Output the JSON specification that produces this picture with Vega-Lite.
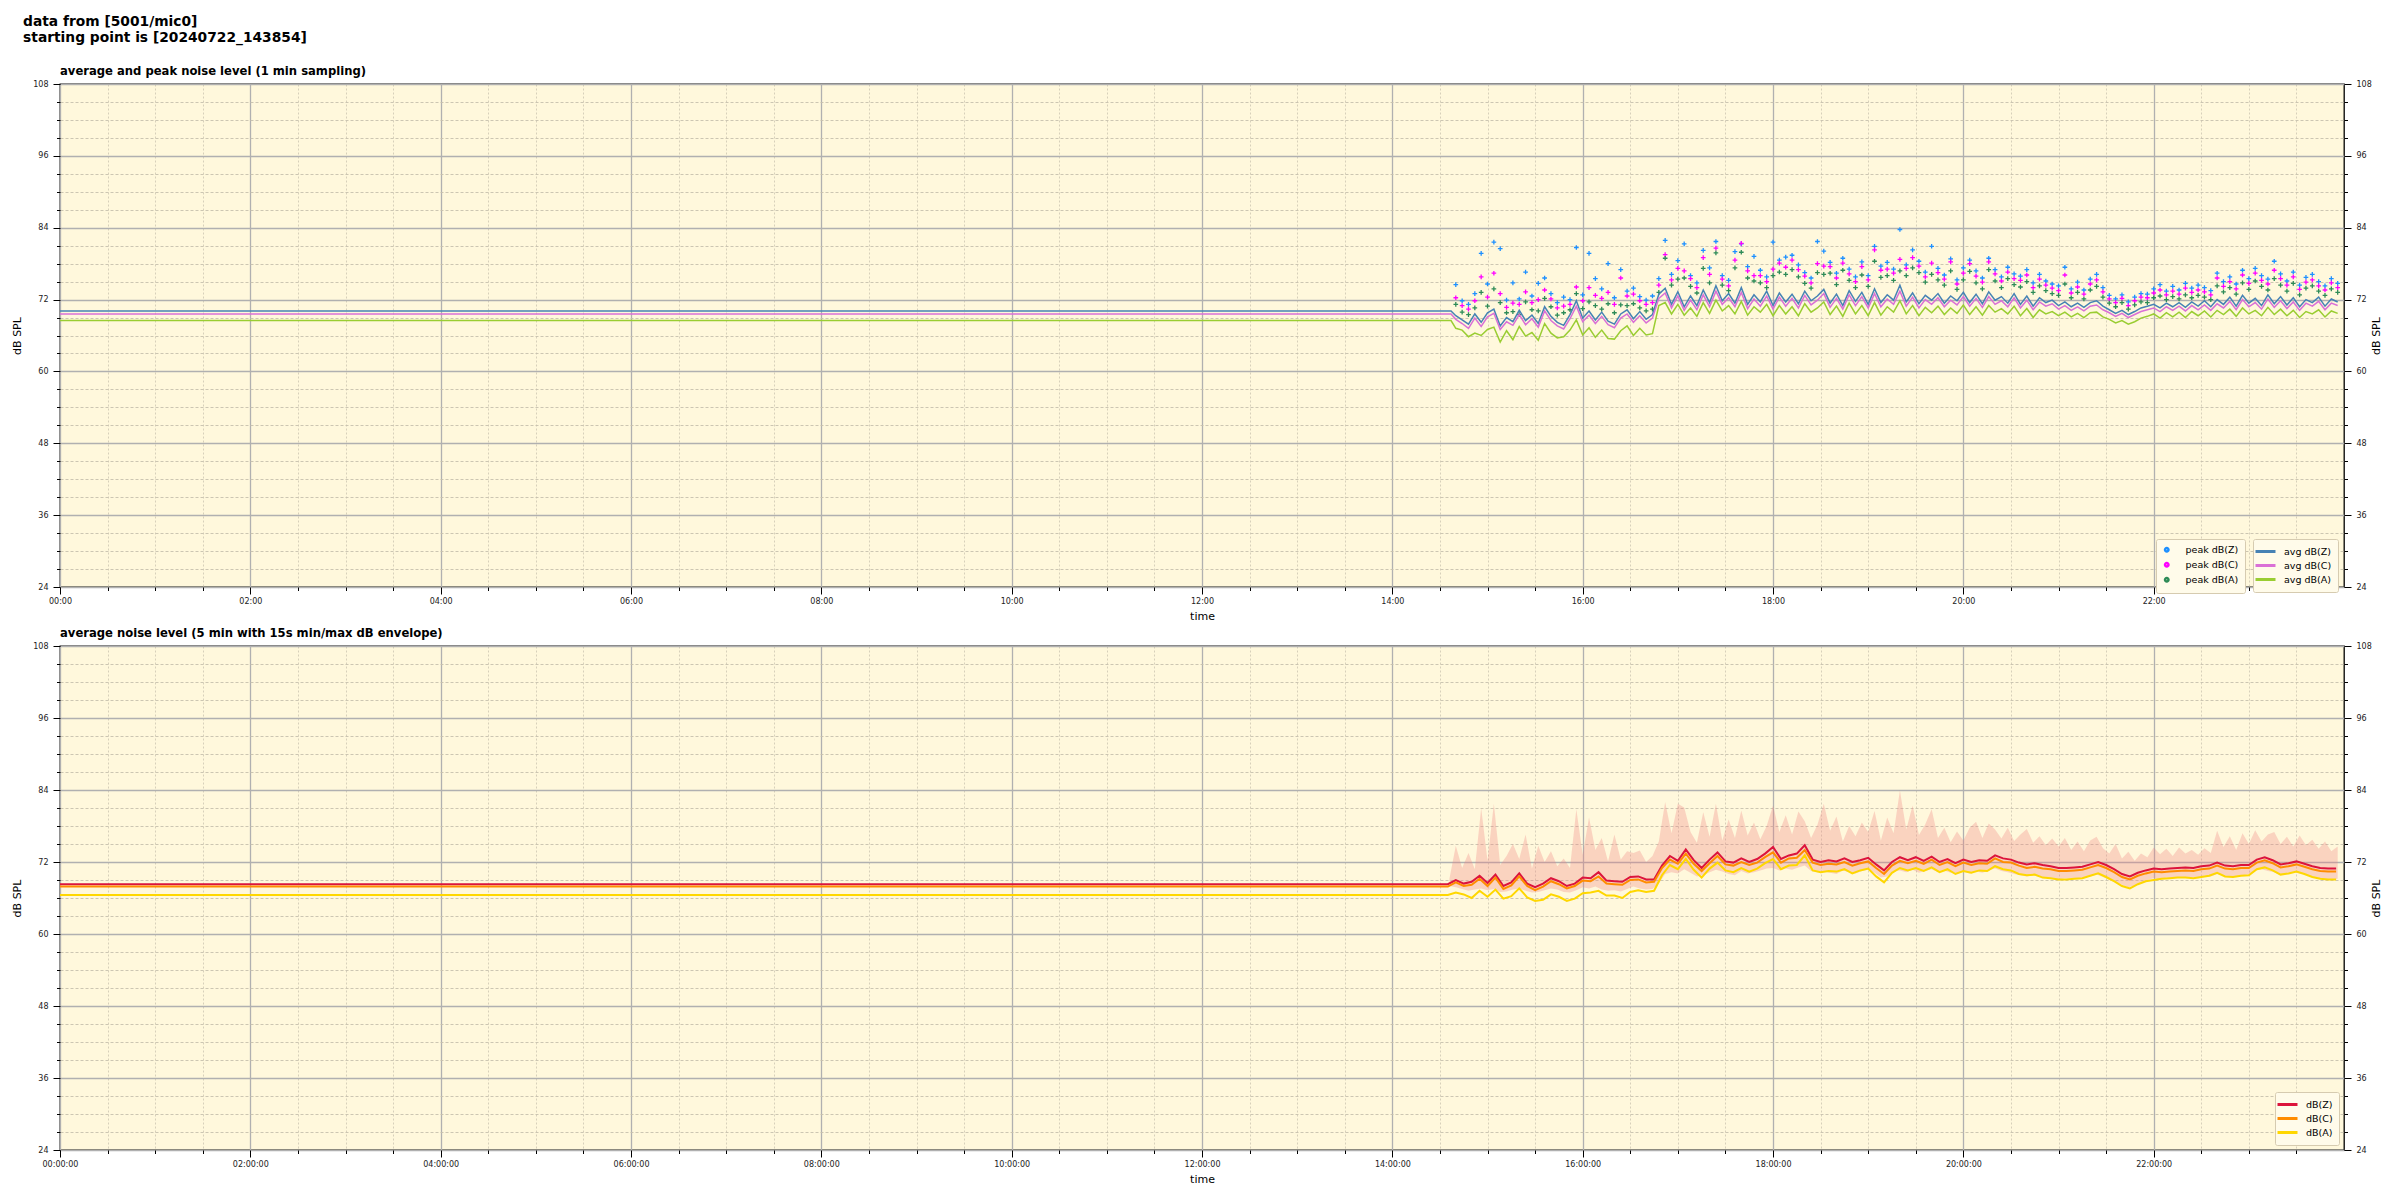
{
"$schema": "https://vega.github.io/schema/vega-lite/v6.json",
"padding": {"left": 11, "top": 14, "right": 10, "bottom": 2},
"background": "white",
"title": {"text": ["data from [5001/mic0]", "starting point is [20240722_143854]"], "anchor": "start", "fontSize": 13.8, "fontWeight": "bold", "font": "DejaVu Sans", "lineHeight": 16, "offset": 21, "dx": 12, "color": "black"},
"config": {
  "font": "DejaVu Sans",
  "view": {"fill": "#fff8dc", "stroke": "black", "strokeWidth": 1.3},
  "axis": {"labelFont": "DejaVu Sans", "labelFontSize": 8, "labelColor": "#222222", "tickColor": "black", "domain": false, "titleFont": "DejaVu Sans", "titleFontSize": 11, "titleFontWeight": "normal", "titleColor": "black"},
  "title": {"font": "DejaVu Sans", "color": "black"}
},
"resolve": {"scale": {"color": "independent"}},
"spacing": 5,
"vconcat": [
{
  "title": {"text": "average and peak noise level (1 min sampling)", "anchor": "start", "frame": "group", "fontSize": 11.6, "fontWeight": "bold", "offset": 2},
  "width": 2284, "height": 503,
  "data": {"values": [
{"t":"2024-07-22T00:00","z":70.1,"c":69.6,"a":68.5},
{"t":"2024-07-22T14:37","z":70.1,"c":69.6,"a":68.5},
{"t":"2024-07-22T14:40","z":69.3,"c":68.7,"a":67.2,"pz":74.5,"pc":72.3,"pa":71.2},
{"t":"2024-07-22T14:44","z":68.6,"c":68.0,"a":66.9,"pz":71.8,"pc":71.0,"pa":69.9},
{"t":"2024-07-22T14:48","z":67.9,"c":67.2,"a":65.8,"pz":71.2,"pc":70.4,"pa":69.5},
{"t":"2024-07-22T14:52","z":69.6,"c":68.9,"a":66.4,"pz":73.0,"pc":71.8,"pa":70.6},
{"t":"2024-07-22T14:56","z":68.2,"c":67.5,"a":66.0,"pz":79.7,"pc":75.8,"pa":73.2},
{"t":"2024-07-22T15:00","z":69.8,"c":69.1,"a":67.0,"pz":74.6,"pc":72.4,"pa":70.9},
{"t":"2024-07-22T15:04","z":70.4,"c":69.7,"a":67.4,"pz":81.6,"pc":76.4,"pa":73.8},
{"t":"2024-07-22T15:08","z":67.6,"c":67.0,"a":64.9,"pz":80.5,"pc":73.0,"pa":71.5},
{"t":"2024-07-22T15:12","z":69.0,"c":68.3,"a":66.8,"pz":71.9,"pc":70.7,"pa":69.8},
{"t":"2024-07-22T15:16","z":68.3,"c":67.7,"a":65.3,"pz":74.8,"pc":71.4,"pa":70.0},
{"t":"2024-07-22T15:20","z":70.2,"c":69.5,"a":67.5,"pz":72.1,"pc":71.2,"pa":69.5},
{"t":"2024-07-22T15:24","z":68.5,"c":67.8,"a":65.9,"pz":76.6,"pc":73.3,"pa":71.6},
{"t":"2024-07-22T15:28","z":69.4,"c":68.8,"a":66.5,"pz":72.6,"pc":71.5,"pa":70.3},
{"t":"2024-07-22T15:32","z":68.0,"c":67.4,"a":65.2,"pz":74.7,"pc":72.0,"pa":70.1},
{"t":"2024-07-22T15:36","z":70.8,"c":70.1,"a":68.0,"pz":75.6,"pc":73.6,"pa":72.2},
{"t":"2024-07-22T15:40","z":69.2,"c":68.5,"a":66.4,"pz":73.0,"pc":72.1,"pa":70.8},
{"t":"2024-07-22T15:44","z":68.2,"c":67.6,"a":65.6,"pz":71.5,"pc":70.6,"pa":69.4},
{"t":"2024-07-22T15:48","z":67.7,"c":67.1,"a":65.8,"pz":72.4,"pc":70.9,"pa":69.8},
{"t":"2024-07-22T15:52","z":69.5,"c":68.8,"a":66.9,"pz":72.0,"pc":71.2,"pa":70.3},
{"t":"2024-07-22T15:56","z":71.8,"c":70.9,"a":68.6,"pz":80.7,"pc":74.1,"pa":73.0},
{"t":"2024-07-22T16:00","z":68.9,"c":68.3,"a":66.1,"pz":72.8,"pc":71.8,"pa":70.5},
{"t":"2024-07-22T16:04","z":70.1,"c":69.4,"a":67.3,"pz":79.7,"pc":74.0,"pa":71.6},
{"t":"2024-07-22T16:08","z":68.6,"c":68.0,"a":65.7,"pz":75.5,"pc":72.7,"pa":71.0},
{"t":"2024-07-22T16:12","z":69.9,"c":69.2,"a":66.9,"pz":73.8,"pc":72.2,"pa":70.4},
{"t":"2024-07-22T16:16","z":68.4,"c":67.8,"a":65.5,"pz":78.0,"pc":73.2,"pa":71.3},
{"t":"2024-07-22T16:20","z":67.9,"c":67.3,"a":65.4,"pz":72.3,"pc":71.2,"pa":69.8},
{"t":"2024-07-22T16:24","z":69.6,"c":68.9,"a":66.8,"pz":77.0,"pc":75.6,"pa":71.1},
{"t":"2024-07-22T16:28","z":70.3,"c":69.6,"a":67.6,"pz":73.4,"pc":72.6,"pa":71.0},
{"t":"2024-07-22T16:32","z":68.8,"c":68.2,"a":66.0,"pz":73.9,"pc":72.9,"pa":71.3},
{"t":"2024-07-22T16:36","z":70.0,"c":69.3,"a":67.2,"pz":72.5,"pc":71.8,"pa":70.6},
{"t":"2024-07-22T16:40","z":68.7,"c":68.1,"a":66.1,"pz":71.9,"pc":71.2,"pa":70.1},
{"t":"2024-07-22T16:44","z":69.5,"c":68.9,"a":66.3,"pz":72.6,"pc":71.5,"pa":70.4},
{"t":"2024-07-22T16:48","z":72.9,"c":72.2,"a":71.0,"pz":75.5,"pc":74.4,"pa":73.2},
{"t":"2024-07-22T16:52","z":73.9,"c":73.1,"a":71.5,"pz":81.9,"pc":79.5,"pa":78.9},
{"t":"2024-07-22T16:56","z":71.2,"c":70.6,"a":69.6,"pz":76.2,"pc":75.3,"pa":74.4},
{"t":"2024-07-22T17:00","z":73.3,"c":72.6,"a":71.2,"pz":78.5,"pc":77.2,"pa":75.4},
{"t":"2024-07-22T17:04","z":70.8,"c":70.2,"a":69.4,"pz":81.3,"pc":76.8,"pa":75.6},
{"t":"2024-07-22T17:08","z":72.6,"c":71.9,"a":70.6,"pz":76.0,"pc":75.5,"pa":74.2},
{"t":"2024-07-22T17:12","z":71.0,"c":70.3,"a":69.2,"pz":74.8,"pc":74.0,"pa":73.1},
{"t":"2024-07-22T17:16","z":73.6,"c":72.8,"a":71.5,"pz":80.2,"pc":79.0,"pa":77.2},
{"t":"2024-07-22T17:20","z":71.5,"c":70.8,"a":69.7,"pz":77.3,"pc":76.2,"pa":74.8},
{"t":"2024-07-22T17:24","z":74.3,"c":73.4,"a":71.9,"pz":81.7,"pc":80.6,"pa":79.8},
{"t":"2024-07-22T17:28","z":71.8,"c":71.2,"a":70.1,"pz":76.0,"pc":75.4,"pa":74.4},
{"t":"2024-07-22T17:32","z":73.0,"c":72.3,"a":71.0,"pz":75.2,"pc":74.3,"pa":73.5},
{"t":"2024-07-22T17:36","z":71.4,"c":70.8,"a":69.6,"pz":80.0,"pc":78.6,"pa":77.3},
{"t":"2024-07-22T17:40","z":74.0,"c":73.2,"a":71.7,"pz":81.3,"pc":81.4,"pa":79.9},
{"t":"2024-07-22T17:44","z":71.2,"c":70.5,"a":69.4,"pz":77.5,"pc":76.8,"pa":75.6},
{"t":"2024-07-22T17:48","z":72.8,"c":72.1,"a":70.8,"pz":79.2,"pc":76.0,"pa":75.1},
{"t":"2024-07-22T17:52","z":71.6,"c":70.9,"a":69.9,"pz":76.9,"pc":76.0,"pa":74.8},
{"t":"2024-07-22T17:56","z":73.4,"c":72.6,"a":71.2,"pz":75.8,"pc":75.0,"pa":74.0},
{"t":"2024-07-22T18:00","z":71.0,"c":70.4,"a":69.3,"pz":81.6,"pc":77.1,"pa":76.0},
{"t":"2024-07-22T18:04","z":73.1,"c":72.4,"a":71.0,"pz":78.6,"pc":78.1,"pa":76.6},
{"t":"2024-07-22T18:08","z":71.6,"c":70.9,"a":69.6,"pz":79.1,"pc":77.4,"pa":76.2},
{"t":"2024-07-22T18:12","z":72.9,"c":72.2,"a":70.8,"pz":79.4,"pc":78.6,"pa":77.0},
{"t":"2024-07-22T18:16","z":71.3,"c":70.6,"a":69.3,"pz":77.8,"pc":77.0,"pa":75.8},
{"t":"2024-07-22T18:20","z":73.4,"c":72.7,"a":71.3,"pz":76.5,"pc":75.9,"pa":74.7},
{"t":"2024-07-22T18:24","z":71.8,"c":71.1,"a":69.9,"pz":75.6,"pc":74.8,"pa":73.9},
{"t":"2024-07-22T18:28","z":72.6,"c":71.9,"a":70.6,"pz":81.7,"pc":78.0,"pa":76.5},
{"t":"2024-07-22T18:32","z":73.7,"c":73.0,"a":71.6,"pz":80.1,"pc":77.6,"pa":76.2},
{"t":"2024-07-22T18:36","z":71.4,"c":70.7,"a":69.5,"pz":78.2,"pc":77.5,"pa":76.4},
{"t":"2024-07-22T18:40","z":72.9,"c":72.2,"a":70.9,"pz":76.4,"pc":75.6,"pa":74.5},
{"t":"2024-07-22T18:44","z":71.0,"c":70.4,"a":69.2,"pz":78.9,"pc":78.1,"pa":76.9},
{"t":"2024-07-22T18:48","z":73.5,"c":72.8,"a":71.4,"pz":77.1,"pc":76.3,"pa":75.2},
{"t":"2024-07-22T18:52","z":71.7,"c":71.0,"a":69.6,"pz":75.8,"pc":75.0,"pa":74.0},
{"t":"2024-07-22T18:56","z":73.2,"c":72.5,"a":71.0,"pz":78.3,"pc":77.5,"pa":76.1},
{"t":"2024-07-22T19:00","z":71.2,"c":70.6,"a":69.3,"pz":76.0,"pc":75.3,"pa":74.2},
{"t":"2024-07-22T19:04","z":73.8,"c":73.0,"a":71.5,"pz":80.9,"pc":80.3,"pa":78.4},
{"t":"2024-07-22T19:08","z":71.5,"c":70.8,"a":69.4,"pz":77.6,"pc":76.9,"pa":75.7},
{"t":"2024-07-22T19:12","z":72.8,"c":72.1,"a":70.8,"pz":78.2,"pc":77.1,"pa":76.0},
{"t":"2024-07-22T19:16","z":71.9,"c":71.2,"a":69.9,"pz":77.1,"pc":76.4,"pa":75.2},
{"t":"2024-07-22T19:20","z":74.4,"c":73.4,"a":71.8,"pz":83.7,"pc":78.7,"pa":76.8},
{"t":"2024-07-22T19:24","z":71.6,"c":70.9,"a":69.6,"pz":77.8,"pc":77.2,"pa":76.0},
{"t":"2024-07-22T19:28","z":73.1,"c":72.4,"a":71.0,"pz":80.3,"pc":79.0,"pa":77.3},
{"t":"2024-07-22T19:32","z":71.3,"c":70.6,"a":69.3,"pz":78.4,"pc":77.6,"pa":76.5},
{"t":"2024-07-22T19:36","z":72.7,"c":72.0,"a":70.7,"pz":76.6,"pc":75.8,"pa":74.9},
{"t":"2024-07-22T19:40","z":71.9,"c":71.2,"a":69.8,"pz":80.9,"pc":78.1,"pa":76.2},
{"t":"2024-07-22T19:44","z":73.0,"c":72.3,"a":70.9,"pz":77.2,"pc":76.5,"pa":75.3},
{"t":"2024-07-22T19:48","z":71.4,"c":70.8,"a":69.5,"pz":76.1,"pc":75.4,"pa":74.4},
{"t":"2024-07-22T19:52","z":72.6,"c":71.9,"a":70.6,"pz":78.8,"pc":78.3,"pa":76.8},
{"t":"2024-07-22T19:56","z":71.8,"c":71.1,"a":69.7,"pz":75.3,"pc":74.6,"pa":73.7},
{"t":"2024-07-22T20:00","z":73.2,"c":72.5,"a":71.1,"pz":77.3,"pc":76.4,"pa":75.3},
{"t":"2024-07-22T20:04","z":71.5,"c":70.9,"a":69.5,"pz":78.6,"pc":78.0,"pa":76.7},
{"t":"2024-07-22T20:08","z":72.9,"c":72.2,"a":70.8,"pz":76.8,"pc":75.9,"pa":74.8},
{"t":"2024-07-22T20:12","z":71.3,"c":70.7,"a":69.4,"pz":75.6,"pc":74.9,"pa":73.8},
{"t":"2024-07-22T20:16","z":73.3,"c":72.5,"a":71.0,"pz":78.9,"pc":78.3,"pa":77.0},
{"t":"2024-07-22T20:20","z":71.9,"c":71.2,"a":69.9,"pz":77.0,"pc":76.3,"pa":75.1},
{"t":"2024-07-22T20:24","z":72.5,"c":71.8,"a":70.5,"pz":75.8,"pc":75.1,"pa":74.0},
{"t":"2024-07-22T20:28","z":71.4,"c":70.8,"a":69.6,"pz":77.4,"pc":76.6,"pa":75.5},
{"t":"2024-07-22T20:32","z":73.0,"c":72.3,"a":70.9,"pz":76.3,"pc":75.5,"pa":74.5},
{"t":"2024-07-22T20:36","z":71.2,"c":70.6,"a":69.3,"pz":75.9,"pc":75.2,"pa":74.1},
{"t":"2024-07-22T20:40","z":72.6,"c":71.9,"a":70.5,"pz":77.0,"pc":76.1,"pa":75.0},
{"t":"2024-07-22T20:44","z":70.9,"c":70.3,"a":69.0,"pz":74.8,"pc":74.0,"pa":73.2},
{"t":"2024-07-22T20:48","z":72.3,"c":71.6,"a":70.3,"pz":76.2,"pc":75.4,"pa":74.3},
{"t":"2024-07-22T20:52","z":71.5,"c":70.9,"a":69.6,"pz":75.1,"pc":74.4,"pa":73.5},
{"t":"2024-07-22T20:56","z":71.9,"c":71.3,"a":70.0,"pz":74.6,"pc":73.9,"pa":73.0},
{"t":"2024-07-22T21:00","z":71.0,"c":70.4,"a":69.3,"pz":74.3,"pc":73.5,"pa":72.7},
{"t":"2024-07-22T21:04","z":71.6,"c":71.0,"a":69.9,"pz":77.4,"pc":76.1,"pa":74.6},
{"t":"2024-07-22T21:08","z":70.8,"c":70.2,"a":69.1,"pz":73.8,"pc":73.1,"pa":72.3},
{"t":"2024-07-22T21:12","z":71.4,"c":70.8,"a":69.7,"pz":74.9,"pc":74.1,"pa":73.2},
{"t":"2024-07-22T21:16","z":70.7,"c":70.1,"a":69.0,"pz":73.6,"pc":72.9,"pa":72.1},
{"t":"2024-07-22T21:20","z":71.5,"c":70.9,"a":69.8,"pz":75.4,"pc":74.6,"pa":73.6},
{"t":"2024-07-22T21:24","z":71.8,"c":71.1,"a":69.9,"pz":76.2,"pc":75.3,"pa":74.2},
{"t":"2024-07-22T21:28","z":70.9,"c":70.3,"a":69.1,"pz":74.0,"pc":73.3,"pa":72.4},
{"t":"2024-07-22T21:32","z":70.3,"c":69.8,"a":68.7,"pz":72.7,"pc":72.1,"pa":71.4},
{"t":"2024-07-22T21:36","z":69.7,"c":69.2,"a":68.1,"pz":72.1,"pc":71.5,"pa":70.8},
{"t":"2024-07-22T21:40","z":70.2,"c":69.7,"a":68.5,"pz":72.8,"pc":72.2,"pa":71.5},
{"t":"2024-07-22T21:44","z":69.5,"c":69.0,"a":67.9,"pz":71.6,"pc":71.0,"pa":70.4},
{"t":"2024-07-22T21:48","z":70.0,"c":69.5,"a":68.3,"pz":72.4,"pc":71.8,"pa":71.1},
{"t":"2024-07-22T21:52","z":70.6,"c":70.0,"a":68.9,"pz":73.0,"pc":72.4,"pa":71.6},
{"t":"2024-07-22T21:56","z":70.9,"c":70.3,"a":69.2,"pz":72.9,"pc":72.3,"pa":71.5},
{"t":"2024-07-22T22:00","z":71.2,"c":70.6,"a":69.6,"pz":73.8,"pc":73.1,"pa":72.3},
{"t":"2024-07-22T22:04","z":70.6,"c":70.0,"a":68.9,"pz":74.5,"pc":73.6,"pa":72.6},
{"t":"2024-07-22T22:08","z":71.4,"c":70.8,"a":69.8,"pz":73.4,"pc":72.8,"pa":72.0},
{"t":"2024-07-22T22:12","z":70.8,"c":70.2,"a":69.1,"pz":74.2,"pc":73.4,"pa":72.5},
{"t":"2024-07-22T22:16","z":71.5,"c":70.9,"a":69.9,"pz":73.6,"pc":72.9,"pa":72.1},
{"t":"2024-07-22T22:20","z":70.7,"c":70.1,"a":69.0,"pz":74.7,"pc":73.9,"pa":72.8},
{"t":"2024-07-22T22:24","z":71.6,"c":71.0,"a":70.0,"pz":73.9,"pc":73.2,"pa":72.3},
{"t":"2024-07-22T22:28","z":70.9,"c":70.3,"a":69.3,"pz":74.4,"pc":73.6,"pa":72.7},
{"t":"2024-07-22T22:32","z":71.8,"c":71.1,"a":70.1,"pz":74.0,"pc":73.3,"pa":72.4},
{"t":"2024-07-22T22:36","z":70.8,"c":70.2,"a":69.1,"pz":73.5,"pc":72.8,"pa":72.0},
{"t":"2024-07-22T22:40","z":72.0,"c":71.3,"a":70.2,"pz":76.4,"pc":75.6,"pa":74.3},
{"t":"2024-07-22T22:44","z":71.2,"c":70.6,"a":69.5,"pz":75.0,"pc":74.2,"pa":73.3},
{"t":"2024-07-22T22:48","z":72.4,"c":71.7,"a":70.4,"pz":75.8,"pc":75.0,"pa":74.0},
{"t":"2024-07-22T22:52","z":70.9,"c":70.3,"a":69.2,"pz":74.6,"pc":73.8,"pa":72.9},
{"t":"2024-07-22T22:56","z":72.7,"c":72.0,"a":70.6,"pz":76.9,"pc":76.1,"pa":74.8},
{"t":"2024-07-22T23:00","z":71.4,"c":70.8,"a":69.6,"pz":75.5,"pc":74.7,"pa":73.7},
{"t":"2024-07-22T23:04","z":72.2,"c":71.5,"a":70.2,"pz":77.2,"pc":76.4,"pa":75.1},
{"t":"2024-07-22T23:08","z":71.0,"c":70.4,"a":69.3,"pz":76.0,"pc":75.2,"pa":74.2},
{"t":"2024-07-22T23:12","z":72.8,"c":72.1,"a":70.7,"pz":75.4,"pc":74.6,"pa":73.6},
{"t":"2024-07-22T23:16","z":71.3,"c":70.7,"a":69.5,"pz":78.4,"pc":76.9,"pa":75.5},
{"t":"2024-07-22T23:20","z":72.5,"c":71.8,"a":70.4,"pz":76.3,"pc":75.5,"pa":74.4},
{"t":"2024-07-22T23:24","z":71.1,"c":70.5,"a":69.3,"pz":75.1,"pc":74.4,"pa":73.4},
{"t":"2024-07-22T23:28","z":72.3,"c":71.6,"a":70.2,"pz":76.6,"pc":75.8,"pa":74.7},
{"t":"2024-07-22T23:32","z":70.8,"c":70.2,"a":69.0,"pz":74.4,"pc":73.7,"pa":72.8},
{"t":"2024-07-22T23:36","z":72.0,"c":71.4,"a":70.0,"pz":75.7,"pc":74.9,"pa":73.9},
{"t":"2024-07-22T23:40","z":71.5,"c":70.9,"a":69.6,"pz":76.2,"pc":75.3,"pa":74.3},
{"t":"2024-07-22T23:44","z":72.4,"c":71.7,"a":70.3,"pz":75.0,"pc":74.3,"pa":73.4},
{"t":"2024-07-22T23:48","z":70.9,"c":70.3,"a":69.1,"pz":74.3,"pc":73.6,"pa":72.7},
{"t":"2024-07-22T23:52","z":72.1,"c":71.4,"a":70.1,"pz":75.5,"pc":74.8,"pa":73.8},
{"t":"2024-07-22T23:56","z":71.6,"c":71.0,"a":69.7,"pz":74.7,"pc":74.0,"pa":73.2}
  ]},
  "layer": [
    {
      "transform": [{"fold": ["pz", "pc", "pa"], "as": ["series", "db"]}],
      "mark": {"type": "point", "shape": "M-1,0L1,0M0,-1L0,1", "filled": false, "size": 22, "strokeWidth": 1.3, "opacity": 1},
      "encoding": {
        "x": {"field": "t", "type": "temporal", "scale": {"domain": [{"year": 2024, "month": 7, "date": 22, "hours": 0}, {"year": 2024, "month": 7, "date": 22, "hours": 23, "minutes": 59, "seconds": 59}], "nice": false},
          "axis": {"orient": "bottom", "format": "%H:%M", "labelFlush": false,
            "values": [{"year":2024,"month":7,"date":22,"hours":0,"minutes":0},{"year":2024,"month":7,"date":22,"hours":0,"minutes":30},{"year":2024,"month":7,"date":22,"hours":1,"minutes":0},{"year":2024,"month":7,"date":22,"hours":1,"minutes":30},{"year":2024,"month":7,"date":22,"hours":2,"minutes":0},{"year":2024,"month":7,"date":22,"hours":2,"minutes":30},{"year":2024,"month":7,"date":22,"hours":3,"minutes":0},{"year":2024,"month":7,"date":22,"hours":3,"minutes":30},{"year":2024,"month":7,"date":22,"hours":4,"minutes":0},{"year":2024,"month":7,"date":22,"hours":4,"minutes":30},{"year":2024,"month":7,"date":22,"hours":5,"minutes":0},{"year":2024,"month":7,"date":22,"hours":5,"minutes":30},{"year":2024,"month":7,"date":22,"hours":6,"minutes":0},{"year":2024,"month":7,"date":22,"hours":6,"minutes":30},{"year":2024,"month":7,"date":22,"hours":7,"minutes":0},{"year":2024,"month":7,"date":22,"hours":7,"minutes":30},{"year":2024,"month":7,"date":22,"hours":8,"minutes":0},{"year":2024,"month":7,"date":22,"hours":8,"minutes":30},{"year":2024,"month":7,"date":22,"hours":9,"minutes":0},{"year":2024,"month":7,"date":22,"hours":9,"minutes":30},{"year":2024,"month":7,"date":22,"hours":10,"minutes":0},{"year":2024,"month":7,"date":22,"hours":10,"minutes":30},{"year":2024,"month":7,"date":22,"hours":11,"minutes":0},{"year":2024,"month":7,"date":22,"hours":11,"minutes":30},{"year":2024,"month":7,"date":22,"hours":12,"minutes":0},{"year":2024,"month":7,"date":22,"hours":12,"minutes":30},{"year":2024,"month":7,"date":22,"hours":13,"minutes":0},{"year":2024,"month":7,"date":22,"hours":13,"minutes":30},{"year":2024,"month":7,"date":22,"hours":14,"minutes":0},{"year":2024,"month":7,"date":22,"hours":14,"minutes":30},{"year":2024,"month":7,"date":22,"hours":15,"minutes":0},{"year":2024,"month":7,"date":22,"hours":15,"minutes":30},{"year":2024,"month":7,"date":22,"hours":16,"minutes":0},{"year":2024,"month":7,"date":22,"hours":16,"minutes":30},{"year":2024,"month":7,"date":22,"hours":17,"minutes":0},{"year":2024,"month":7,"date":22,"hours":17,"minutes":30},{"year":2024,"month":7,"date":22,"hours":18,"minutes":0},{"year":2024,"month":7,"date":22,"hours":18,"minutes":30},{"year":2024,"month":7,"date":22,"hours":19,"minutes":0},{"year":2024,"month":7,"date":22,"hours":19,"minutes":30},{"year":2024,"month":7,"date":22,"hours":20,"minutes":0},{"year":2024,"month":7,"date":22,"hours":20,"minutes":30},{"year":2024,"month":7,"date":22,"hours":21,"minutes":0},{"year":2024,"month":7,"date":22,"hours":21,"minutes":30},{"year":2024,"month":7,"date":22,"hours":22,"minutes":0},{"year":2024,"month":7,"date":22,"hours":22,"minutes":30},{"year":2024,"month":7,"date":22,"hours":23,"minutes":0},{"year":2024,"month":7,"date":22,"hours":23,"minutes":30}],
            "labelExpr": "hours(datum.value) % 2 === 0 && minutes(datum.value) === 0 ? datum.label : ''",
            "tickSize": {"condition": {"test": "minutes(datum.value) === 0 && hours(datum.value) % 2 === 0", "value": 7}, "value": 3.5},
            "grid": true,
            "gridColor": {"condition": {"test": "minutes(datum.value) === 0 && hours(datum.value) % 2 === 0", "value": "#b0b0b0"}, "value": "#d3cbb6"},
            "gridDash": {"condition": {"test": "minutes(datum.value) === 0 && hours(datum.value) % 2 === 0", "value": [1, 0]}, "value": [2, 2]},
            "gridWidth": {"condition": {"test": "minutes(datum.value) === 0 && hours(datum.value) % 2 === 0", "value": 1.3}, "value": 0.9},
            "labelPadding": 3, "title": "time", "titlePadding": 5}},
        "y": {"field": "db", "type": "quantitative", "scale": {"domain": [24, 108], "nice": false, "zero": false},
          "axis": {"orient": "left", "values": [24,27,30,33,36,39,42,45,48,51,54,57,60,63,66,69,72,75,78,81,84,87,90,93,96,99,102,105,108],
            "labelExpr": "datum.value % 12 === 0 ? datum.label : ''",
            "tickSize": {"condition": {"test": "datum.value % 12 === 0", "value": 7}, "value": 3.5},
            "grid": true,
            "gridColor": {"condition": {"test": "datum.value % 12 === 0", "value": "#b0b0b0"}, "value": "#c6bfad"},
            "gridDash": {"condition": {"test": "datum.value % 12 === 0", "value": [1, 0]}, "value": [3, 2]},
            "gridWidth": {"condition": {"test": "datum.value % 12 === 0", "value": 1.3}, "value": 0.9},
            "labelPadding": 5, "title": "dB SPL", "titlePadding": 10}},
        "color": {"field": "series", "type": "nominal",
          "scale": {"domain": ["pz", "pc", "pa"], "range": ["#1e90ff", "#ff00ff", "#2e8b57"]},
          "legend": {"title": null, "orient": "none", "legendX": 2096, "legendY": 455, "rowPadding": 1,
            "fillColor": "#fffbea", "strokeColor": "#d6cbb0", "cornerRadius": 2, "padding": 6,
            "labelFont": "DejaVu Sans", "labelFontSize": 9.5, "labelColor": "black", "labelOffset": 14,
            "symbolType": "circle", "symbolSize": 12, "symbolStrokeWidth": 2.5,
            "labelExpr": "datum.label == 'pz' ? 'peak dB(Z)\u00a0\u00a0\u00a0\u00a0\u00a0' : datum.label == 'pc' ? 'peak dB(C)\u00a0\u00a0\u00a0\u00a0\u00a0' : 'peak dB(A)\u00a0\u00a0\u00a0\u00a0\u00a0'"
          }
        }
      }
    },
    {
      "transform": [{"fold": ["z", "c", "a"], "as": ["series", "db"]}],
      "mark": {"type": "line", "strokeWidth": 1.5},
      "encoding": {
        "x": {"field": "t", "type": "temporal"},
        "y": {"field": "db", "type": "quantitative", "scale": {"domain": [24, 108], "nice": false, "zero": false},
          "axis": {"orient": "right", "values": [24,27,30,33,36,39,42,45,48,51,54,57,60,63,66,69,72,75,78,81,84,87,90,93,96,99,102,105,108],
            "labelExpr": "datum.value % 12 === 0 ? datum.label : ''",
            "tickSize": {"condition": {"test": "datum.value % 12 === 0", "value": 7}, "value": 3.5},
            "grid": false, "labelPadding": 5, "title": "dB SPL", "titlePadding": 10, "titleAngle": 270}},
        "color": {"field": "series", "type": "nominal",
          "scale": {"domain": ["z", "c", "a"], "range": ["#4682b4", "#da70d6", "#9acd32"]},
          "legend": {"title": null, "orient": "none", "legendX": 2193, "legendY": 455, "rowPadding": 1,
            "fillColor": "#fffbea", "strokeColor": "#d6cbb0", "cornerRadius": 2, "padding": 6,
            "labelFont": "DejaVu Sans", "labelFontSize": 9.5, "labelColor": "black", "labelOffset": 12,
            "symbolType": "M-2,0L2,0", "symbolSize": 100, "symbolStrokeWidth": 3,
            "labelExpr": "datum.label == 'z' ? 'avg dB(Z)' : datum.label == 'c' ? 'avg dB(C)' : 'avg dB(A)'"
          }
        }
      }
    }
  ],
  "resolve": {"scale": {"y": "independent", "color": "independent"}}
},
{
  "title": {"text": "average noise level (5 min with 15s min/max dB envelope)", "anchor": "start", "frame": "group", "fontSize": 11.6, "fontWeight": "bold", "offset": 2},
  "width": 2284, "height": 504,
  "layer": [
    {
      "data": {"values": [
{"t":"2024-07-22T14:36","lo":68.0,"hi":69.2},{"t":"2024-07-22T14:40","lo":67.8,"hi":74.7},{"t":"2024-07-22T14:44","lo":67.5,"hi":71.0},{"t":"2024-07-22T14:48","lo":67.2,"hi":73.5},
{"t":"2024-07-22T14:52","lo":67.4,"hi":70.8},{"t":"2024-07-22T14:56","lo":67.6,"hi":81.0},{"t":"2024-07-22T15:00","lo":67.3,"hi":72.2},{"t":"2024-07-22T15:04","lo":67.5,"hi":81.7},
{"t":"2024-07-22T15:08","lo":67.0,"hi":71.5},{"t":"2024-07-22T15:12","lo":67.1,"hi":73.0},{"t":"2024-07-22T15:16","lo":67.4,"hi":75.0},{"t":"2024-07-22T15:20","lo":67.6,"hi":72.5},
{"t":"2024-07-22T15:24","lo":67.2,"hi":76.6},{"t":"2024-07-22T15:28","lo":66.9,"hi":70.9},{"t":"2024-07-22T15:32","lo":67.0,"hi":74.7},{"t":"2024-07-22T15:36","lo":67.3,"hi":72.0},
{"t":"2024-07-22T15:40","lo":67.6,"hi":73.8},{"t":"2024-07-22T15:44","lo":67.4,"hi":71.3},{"t":"2024-07-22T15:48","lo":67.0,"hi":72.6},{"t":"2024-07-22T15:52","lo":66.9,"hi":71.0},
{"t":"2024-07-22T15:56","lo":67.3,"hi":80.8},{"t":"2024-07-22T16:00","lo":67.8,"hi":73.2},{"t":"2024-07-22T16:04","lo":67.6,"hi":79.4},{"t":"2024-07-22T16:08","lo":67.9,"hi":74.0},
{"t":"2024-07-22T16:12","lo":67.4,"hi":76.0},{"t":"2024-07-22T16:16","lo":67.2,"hi":72.1},{"t":"2024-07-22T16:20","lo":67.3,"hi":76.6},{"t":"2024-07-22T16:24","lo":67.1,"hi":72.4},
{"t":"2024-07-22T16:28","lo":67.5,"hi":73.8},{"t":"2024-07-22T16:32","lo":67.9,"hi":73.5},{"t":"2024-07-22T16:36","lo":67.6,"hi":73.9},{"t":"2024-07-22T16:40","lo":67.4,"hi":72.0},
{"t":"2024-07-22T16:44","lo":67.5,"hi":73.0},{"t":"2024-07-22T16:48","lo":68.4,"hi":75.4},{"t":"2024-07-22T16:52","lo":70.0,"hi":82.0},{"t":"2024-07-22T16:56","lo":70.3,"hi":76.8},
{"t":"2024-07-22T17:00","lo":70.1,"hi":81.7},{"t":"2024-07-22T17:04","lo":70.8,"hi":81.1},{"t":"2024-07-22T17:08","lo":70.2,"hi":77.0},{"t":"2024-07-22T17:12","lo":69.6,"hi":75.2},
{"t":"2024-07-22T17:16","lo":69.8,"hi":80.3},{"t":"2024-07-22T17:20","lo":70.3,"hi":76.2},{"t":"2024-07-22T17:24","lo":70.7,"hi":81.7},{"t":"2024-07-22T17:28","lo":70.4,"hi":75.6},
{"t":"2024-07-22T17:32","lo":70.0,"hi":79.1},{"t":"2024-07-22T17:36","lo":69.8,"hi":76.0},{"t":"2024-07-22T17:40","lo":70.5,"hi":80.6},{"t":"2024-07-22T17:44","lo":70.1,"hi":76.4},
{"t":"2024-07-22T17:48","lo":70.3,"hi":78.6},{"t":"2024-07-22T17:52","lo":70.6,"hi":75.8},{"t":"2024-07-22T17:56","lo":70.9,"hi":78.0},{"t":"2024-07-22T18:00","lo":71.0,"hi":81.4},
{"t":"2024-07-22T18:04","lo":70.6,"hi":77.0},{"t":"2024-07-22T18:08","lo":70.9,"hi":79.8},{"t":"2024-07-22T18:12","lo":70.7,"hi":76.6},{"t":"2024-07-22T18:16","lo":71.1,"hi":80.4},
{"t":"2024-07-22T18:20","lo":71.4,"hi":78.8},{"t":"2024-07-22T18:24","lo":70.5,"hi":76.0},{"t":"2024-07-22T18:28","lo":70.3,"hi":78.2},{"t":"2024-07-22T18:32","lo":70.4,"hi":81.7},
{"t":"2024-07-22T18:36","lo":70.2,"hi":77.2},{"t":"2024-07-22T18:40","lo":70.0,"hi":79.6},{"t":"2024-07-22T18:44","lo":70.6,"hi":75.4},{"t":"2024-07-22T18:48","lo":70.3,"hi":78.0},
{"t":"2024-07-22T18:52","lo":70.1,"hi":76.3},{"t":"2024-07-22T18:56","lo":70.5,"hi":78.6},{"t":"2024-07-22T19:00","lo":70.7,"hi":77.0},{"t":"2024-07-22T19:04","lo":70.2,"hi":80.5},
{"t":"2024-07-22T19:08","lo":69.4,"hi":75.6},{"t":"2024-07-22T19:12","lo":69.6,"hi":79.4},{"t":"2024-07-22T19:16","lo":70.4,"hi":76.8},{"t":"2024-07-22T19:20","lo":70.6,"hi":83.9},
{"t":"2024-07-22T19:24","lo":70.3,"hi":77.4},{"t":"2024-07-22T19:28","lo":70.7,"hi":81.4},{"t":"2024-07-22T19:32","lo":70.2,"hi":76.5},{"t":"2024-07-22T19:36","lo":70.5,"hi":78.3},
{"t":"2024-07-22T19:40","lo":70.8,"hi":80.8},{"t":"2024-07-22T19:44","lo":70.3,"hi":76.0},{"t":"2024-07-22T19:48","lo":70.6,"hi":77.7},{"t":"2024-07-22T19:52","lo":70.2,"hi":75.3},
{"t":"2024-07-22T19:56","lo":70.0,"hi":77.1},{"t":"2024-07-22T20:00","lo":70.4,"hi":75.6},{"t":"2024-07-22T20:04","lo":70.1,"hi":77.7},{"t":"2024-07-22T20:08","lo":70.4,"hi":78.7},
{"t":"2024-07-22T20:12","lo":70.2,"hi":76.0},{"t":"2024-07-22T20:16","lo":70.6,"hi":78.4},{"t":"2024-07-22T20:20","lo":70.9,"hi":77.4},{"t":"2024-07-22T20:24","lo":70.5,"hi":75.9},
{"t":"2024-07-22T20:28","lo":70.3,"hi":77.7},{"t":"2024-07-22T20:32","lo":70.0,"hi":75.5},{"t":"2024-07-22T20:36","lo":69.8,"hi":76.6},{"t":"2024-07-22T20:40","lo":69.6,"hi":77.5},
{"t":"2024-07-22T20:44","lo":69.8,"hi":75.2},{"t":"2024-07-22T20:48","lo":69.5,"hi":76.3},{"t":"2024-07-22T20:52","lo":69.4,"hi":74.8},{"t":"2024-07-22T20:56","lo":69.2,"hi":75.9},
{"t":"2024-07-22T21:00","lo":69.1,"hi":74.6},{"t":"2024-07-22T21:04","lo":69.3,"hi":76.0},{"t":"2024-07-22T21:08","lo":69.2,"hi":74.0},{"t":"2024-07-22T21:12","lo":69.3,"hi":75.4},
{"t":"2024-07-22T21:16","lo":69.4,"hi":73.8},{"t":"2024-07-22T21:20","lo":69.6,"hi":75.6},{"t":"2024-07-22T21:24","lo":69.9,"hi":76.2},{"t":"2024-07-22T21:28","lo":69.5,"hi":74.3},
{"t":"2024-07-22T21:32","lo":69.0,"hi":73.4},{"t":"2024-07-22T21:36","lo":68.6,"hi":75.0},{"t":"2024-07-22T21:40","lo":68.2,"hi":72.6},{"t":"2024-07-22T21:44","lo":67.8,"hi":73.7},
{"t":"2024-07-22T21:48","lo":68.1,"hi":72.2},{"t":"2024-07-22T21:52","lo":68.6,"hi":73.4},{"t":"2024-07-22T21:56","lo":69.0,"hi":72.8},{"t":"2024-07-22T22:00","lo":69.3,"hi":74.4},
{"t":"2024-07-22T22:04","lo":69.1,"hi":73.3},{"t":"2024-07-22T22:08","lo":69.4,"hi":74.2},{"t":"2024-07-22T22:12","lo":69.2,"hi":73.0},{"t":"2024-07-22T22:16","lo":69.5,"hi":74.4},
{"t":"2024-07-22T22:20","lo":69.4,"hi":73.4},{"t":"2024-07-22T22:24","lo":69.5,"hi":74.0},{"t":"2024-07-22T22:28","lo":69.3,"hi":73.2},{"t":"2024-07-22T22:32","lo":69.7,"hi":74.3},
{"t":"2024-07-22T22:36","lo":69.6,"hi":73.5},{"t":"2024-07-22T22:40","lo":70.0,"hi":77.2},{"t":"2024-07-22T22:44","lo":69.7,"hi":74.5},{"t":"2024-07-22T22:48","lo":69.5,"hi":76.3},
{"t":"2024-07-22T22:52","lo":69.6,"hi":74.0},{"t":"2024-07-22T22:56","lo":69.8,"hi":76.8},{"t":"2024-07-22T23:00","lo":69.9,"hi":75.0},{"t":"2024-07-22T23:04","lo":70.6,"hi":77.3},
{"t":"2024-07-22T23:08","lo":70.8,"hi":75.4},{"t":"2024-07-22T23:12","lo":70.5,"hi":76.6},{"t":"2024-07-22T23:16","lo":70.3,"hi":77.0},{"t":"2024-07-22T23:20","lo":69.8,"hi":75.0},
{"t":"2024-07-22T23:24","lo":70.0,"hi":76.2},{"t":"2024-07-22T23:28","lo":70.3,"hi":74.6},{"t":"2024-07-22T23:32","lo":70.1,"hi":76.4},{"t":"2024-07-22T23:36","lo":69.9,"hi":74.8},
{"t":"2024-07-22T23:40","lo":69.6,"hi":75.7},{"t":"2024-07-22T23:44","lo":69.3,"hi":74.2},{"t":"2024-07-22T23:48","lo":69.2,"hi":75.4},{"t":"2024-07-22T23:52","lo":69.1,"hi":73.8},
{"t":"2024-07-22T23:56","lo":69.2,"hi":74.6}
      ]},
      "mark": {"type": "area", "color": "#ef7f7f", "opacity": 0.3},
      "encoding": {
        "x": {"field": "t", "type": "temporal", "scale": {"domain": [{"year": 2024, "month": 7, "date": 22, "hours": 0}, {"year": 2024, "month": 7, "date": 22, "hours": 23, "minutes": 59, "seconds": 59}], "nice": false},
          "axis": {"orient": "bottom", "format": "%H:%M:%S", "labelFlush": false,
            "values": [{"year":2024,"month":7,"date":22,"hours":0,"minutes":0},{"year":2024,"month":7,"date":22,"hours":0,"minutes":30},{"year":2024,"month":7,"date":22,"hours":1,"minutes":0},{"year":2024,"month":7,"date":22,"hours":1,"minutes":30},{"year":2024,"month":7,"date":22,"hours":2,"minutes":0},{"year":2024,"month":7,"date":22,"hours":2,"minutes":30},{"year":2024,"month":7,"date":22,"hours":3,"minutes":0},{"year":2024,"month":7,"date":22,"hours":3,"minutes":30},{"year":2024,"month":7,"date":22,"hours":4,"minutes":0},{"year":2024,"month":7,"date":22,"hours":4,"minutes":30},{"year":2024,"month":7,"date":22,"hours":5,"minutes":0},{"year":2024,"month":7,"date":22,"hours":5,"minutes":30},{"year":2024,"month":7,"date":22,"hours":6,"minutes":0},{"year":2024,"month":7,"date":22,"hours":6,"minutes":30},{"year":2024,"month":7,"date":22,"hours":7,"minutes":0},{"year":2024,"month":7,"date":22,"hours":7,"minutes":30},{"year":2024,"month":7,"date":22,"hours":8,"minutes":0},{"year":2024,"month":7,"date":22,"hours":8,"minutes":30},{"year":2024,"month":7,"date":22,"hours":9,"minutes":0},{"year":2024,"month":7,"date":22,"hours":9,"minutes":30},{"year":2024,"month":7,"date":22,"hours":10,"minutes":0},{"year":2024,"month":7,"date":22,"hours":10,"minutes":30},{"year":2024,"month":7,"date":22,"hours":11,"minutes":0},{"year":2024,"month":7,"date":22,"hours":11,"minutes":30},{"year":2024,"month":7,"date":22,"hours":12,"minutes":0},{"year":2024,"month":7,"date":22,"hours":12,"minutes":30},{"year":2024,"month":7,"date":22,"hours":13,"minutes":0},{"year":2024,"month":7,"date":22,"hours":13,"minutes":30},{"year":2024,"month":7,"date":22,"hours":14,"minutes":0},{"year":2024,"month":7,"date":22,"hours":14,"minutes":30},{"year":2024,"month":7,"date":22,"hours":15,"minutes":0},{"year":2024,"month":7,"date":22,"hours":15,"minutes":30},{"year":2024,"month":7,"date":22,"hours":16,"minutes":0},{"year":2024,"month":7,"date":22,"hours":16,"minutes":30},{"year":2024,"month":7,"date":22,"hours":17,"minutes":0},{"year":2024,"month":7,"date":22,"hours":17,"minutes":30},{"year":2024,"month":7,"date":22,"hours":18,"minutes":0},{"year":2024,"month":7,"date":22,"hours":18,"minutes":30},{"year":2024,"month":7,"date":22,"hours":19,"minutes":0},{"year":2024,"month":7,"date":22,"hours":19,"minutes":30},{"year":2024,"month":7,"date":22,"hours":20,"minutes":0},{"year":2024,"month":7,"date":22,"hours":20,"minutes":30},{"year":2024,"month":7,"date":22,"hours":21,"minutes":0},{"year":2024,"month":7,"date":22,"hours":21,"minutes":30},{"year":2024,"month":7,"date":22,"hours":22,"minutes":0},{"year":2024,"month":7,"date":22,"hours":22,"minutes":30},{"year":2024,"month":7,"date":22,"hours":23,"minutes":0},{"year":2024,"month":7,"date":22,"hours":23,"minutes":30}],
            "labelExpr": "hours(datum.value) % 2 === 0 && minutes(datum.value) === 0 ? datum.label : ''",
            "tickSize": {"condition": {"test": "minutes(datum.value) === 0 && hours(datum.value) % 2 === 0", "value": 7}, "value": 3.5},
            "grid": true,
            "gridColor": {"condition": {"test": "minutes(datum.value) === 0 && hours(datum.value) % 2 === 0", "value": "#b0b0b0"}, "value": "#d3cbb6"},
            "gridDash": {"condition": {"test": "minutes(datum.value) === 0 && hours(datum.value) % 2 === 0", "value": [1, 0]}, "value": [2, 2]},
            "gridWidth": {"condition": {"test": "minutes(datum.value) === 0 && hours(datum.value) % 2 === 0", "value": 1.3}, "value": 0.9},
            "labelPadding": 3, "title": "time", "titlePadding": 5}},
        "y": {"field": "lo", "type": "quantitative", "scale": {"domain": [24, 108], "nice": false, "zero": false},
          "axis": {"orient": "left", "values": [24,27,30,33,36,39,42,45,48,51,54,57,60,63,66,69,72,75,78,81,84,87,90,93,96,99,102,105,108],
            "labelExpr": "datum.value % 12 === 0 ? datum.label : ''",
            "tickSize": {"condition": {"test": "datum.value % 12 === 0", "value": 7}, "value": 3.5},
            "grid": true,
            "gridColor": {"condition": {"test": "datum.value % 12 === 0", "value": "#b0b0b0"}, "value": "#c6bfad"},
            "gridDash": {"condition": {"test": "datum.value % 12 === 0", "value": [1, 0]}, "value": [3, 2]},
            "gridWidth": {"condition": {"test": "datum.value % 12 === 0", "value": 1.3}, "value": 0.9},
            "labelPadding": 5, "title": "dB SPL", "titlePadding": 10}},
        "y2": {"field": "hi"}
      }
    },
    {
      "data": {"values": [
{"t":"2024-07-22T00:00","z":68.3,"c":67.9,"a":66.5},
{"t":"2024-07-22T14:35","z":68.3,"c":67.9,"a":66.5},{"t":"2024-07-22T14:40","z":69.0,"c":68.6,"a":66.9},{"t":"2024-07-22T14:45","z":68.4,"c":68.0,"a":66.6},
{"t":"2024-07-22T14:50","z":68.7,"c":68.2,"a":66.0},{"t":"2024-07-22T14:55","z":69.7,"c":69.2,"a":67.2},{"t":"2024-07-22T15:00","z":68.5,"c":68.0,"a":66.2},
{"t":"2024-07-22T15:05","z":69.9,"c":69.4,"a":67.4},{"t":"2024-07-22T15:10","z":68.0,"c":67.5,"a":65.9},{"t":"2024-07-22T15:15","z":68.6,"c":68.1,"a":66.3},
{"t":"2024-07-22T15:20","z":70.1,"c":69.6,"a":67.6},{"t":"2024-07-22T15:25","z":68.4,"c":68.0,"a":66.1},{"t":"2024-07-22T15:30","z":67.8,"c":67.3,"a":65.5},
{"t":"2024-07-22T15:35","z":68.4,"c":67.9,"a":65.7},{"t":"2024-07-22T15:40","z":69.3,"c":68.8,"a":66.6},{"t":"2024-07-22T15:45","z":68.8,"c":68.3,"a":66.2},
{"t":"2024-07-22T15:50","z":68.0,"c":67.6,"a":65.5},{"t":"2024-07-22T15:55","z":68.4,"c":68.0,"a":65.9},{"t":"2024-07-22T16:00","z":69.4,"c":68.9,"a":66.8},
{"t":"2024-07-22T16:05","z":69.3,"c":68.8,"a":66.9},{"t":"2024-07-22T16:10","z":70.3,"c":69.6,"a":67.2},{"t":"2024-07-22T16:15","z":68.9,"c":68.4,"a":66.4},
{"t":"2024-07-22T16:20","z":68.8,"c":68.3,"a":66.4},{"t":"2024-07-22T16:25","z":68.7,"c":68.2,"a":66.0},{"t":"2024-07-22T16:30","z":69.5,"c":69.0,"a":67.0},
{"t":"2024-07-22T16:35","z":69.6,"c":69.1,"a":67.3},{"t":"2024-07-22T16:40","z":69.1,"c":68.6,"a":67.0},{"t":"2024-07-22T16:45","z":69.1,"c":68.7,"a":67.2},
{"t":"2024-07-22T16:50","z":71.4,"c":71.0,"a":69.8},{"t":"2024-07-22T16:55","z":73.0,"c":72.4,"a":71.5},{"t":"2024-07-22T17:00","z":72.2,"c":71.7,"a":70.8},
{"t":"2024-07-22T17:05","z":74.1,"c":73.4,"a":72.5},{"t":"2024-07-22T17:10","z":72.3,"c":71.7,"a":70.7},{"t":"2024-07-22T17:15","z":71.0,"c":70.5,"a":69.4},
{"t":"2024-07-22T17:20","z":72.4,"c":71.8,"a":70.9},{"t":"2024-07-22T17:25","z":73.6,"c":73.0,"a":71.9},{"t":"2024-07-22T17:30","z":72.1,"c":71.6,"a":70.6},
{"t":"2024-07-22T17:35","z":71.9,"c":71.4,"a":70.3},{"t":"2024-07-22T17:40","z":72.6,"c":72.0,"a":71.0},{"t":"2024-07-22T17:45","z":72.0,"c":71.5,"a":70.4},
{"t":"2024-07-22T17:50","z":72.5,"c":71.9,"a":70.9},{"t":"2024-07-22T17:55","z":73.4,"c":72.8,"a":71.8},{"t":"2024-07-22T18:00","z":74.5,"c":73.6,"a":72.5},
{"t":"2024-07-22T18:05","z":72.5,"c":71.9,"a":70.8},{"t":"2024-07-22T18:10","z":73.1,"c":72.6,"a":71.4},{"t":"2024-07-22T18:15","z":73.4,"c":72.7,"a":71.5},
{"t":"2024-07-22T18:20","z":74.8,"c":74.0,"a":73.1},{"t":"2024-07-22T18:25","z":72.4,"c":71.9,"a":70.6},{"t":"2024-07-22T18:30","z":72.0,"c":71.5,"a":70.3},
{"t":"2024-07-22T18:35","z":72.3,"c":71.7,"a":70.5},{"t":"2024-07-22T18:40","z":72.1,"c":71.6,"a":70.4},{"t":"2024-07-22T18:45","z":72.6,"c":72.0,"a":70.8},
{"t":"2024-07-22T18:50","z":72.0,"c":71.4,"a":70.1},{"t":"2024-07-22T18:55","z":72.3,"c":71.8,"a":70.6},{"t":"2024-07-22T19:00","z":72.7,"c":72.1,"a":70.9},
{"t":"2024-07-22T19:05","z":71.6,"c":71.0,"a":69.6},{"t":"2024-07-22T19:10","z":70.6,"c":70.0,"a":68.6},{"t":"2024-07-22T19:15","z":72.0,"c":71.4,"a":70.2},
{"t":"2024-07-22T19:20","z":72.8,"c":72.2,"a":71.0},{"t":"2024-07-22T19:25","z":72.3,"c":71.8,"a":70.6},{"t":"2024-07-22T19:30","z":72.8,"c":72.2,"a":71.0},
{"t":"2024-07-22T19:35","z":72.2,"c":71.7,"a":70.5},{"t":"2024-07-22T19:40","z":72.9,"c":72.4,"a":71.1},{"t":"2024-07-22T19:45","z":72.0,"c":71.5,"a":70.3},
{"t":"2024-07-22T19:50","z":72.5,"c":72.0,"a":70.8},{"t":"2024-07-22T19:55","z":71.8,"c":71.3,"a":70.0},{"t":"2024-07-22T20:00","z":72.4,"c":71.9,"a":70.5},
{"t":"2024-07-22T20:05","z":72.0,"c":71.5,"a":70.2},{"t":"2024-07-22T20:10","z":72.3,"c":71.8,"a":70.6},{"t":"2024-07-22T20:15","z":72.2,"c":71.7,"a":70.5},
{"t":"2024-07-22T20:20","z":73.1,"c":72.6,"a":71.3},{"t":"2024-07-22T20:25","z":72.6,"c":72.0,"a":70.8},{"t":"2024-07-22T20:30","z":72.4,"c":71.9,"a":70.6},
{"t":"2024-07-22T20:35","z":71.9,"c":71.4,"a":70.0},{"t":"2024-07-22T20:40","z":71.6,"c":71.0,"a":69.8},{"t":"2024-07-22T20:45","z":71.8,"c":71.2,"a":69.9},
{"t":"2024-07-22T20:50","z":71.5,"c":70.9,"a":69.4},{"t":"2024-07-22T20:55","z":71.3,"c":70.8,"a":69.3},{"t":"2024-07-22T21:00","z":71.0,"c":70.5,"a":69.1},
{"t":"2024-07-22T21:05","z":71.0,"c":70.5,"a":69.1},{"t":"2024-07-22T21:10","z":71.1,"c":70.6,"a":69.2},{"t":"2024-07-22T21:15","z":71.2,"c":70.7,"a":69.3},
{"t":"2024-07-22T21:20","z":71.6,"c":71.1,"a":69.7},{"t":"2024-07-22T21:25","z":72.0,"c":71.5,"a":70.1},{"t":"2024-07-22T21:30","z":71.5,"c":71.0,"a":69.5},
{"t":"2024-07-22T21:35","z":70.8,"c":70.3,"a":68.8},{"t":"2024-07-22T21:40","z":70.0,"c":69.5,"a":68.0},{"t":"2024-07-22T21:45","z":69.6,"c":69.1,"a":67.6},
{"t":"2024-07-22T21:50","z":70.2,"c":69.7,"a":68.3},{"t":"2024-07-22T21:55","z":70.6,"c":70.1,"a":68.8},{"t":"2024-07-22T22:00","z":70.9,"c":70.4,"a":69.0},
{"t":"2024-07-22T22:05","z":70.8,"c":70.3,"a":69.2},{"t":"2024-07-22T22:10","z":70.9,"c":70.4,"a":69.3},{"t":"2024-07-22T22:15","z":71.0,"c":70.5,"a":69.4},
{"t":"2024-07-22T22:20","z":71.1,"c":70.6,"a":69.4},{"t":"2024-07-22T22:25","z":71.0,"c":70.5,"a":69.3},{"t":"2024-07-22T22:30","z":71.3,"c":70.8,"a":69.5},
{"t":"2024-07-22T22:35","z":71.4,"c":70.9,"a":69.7},{"t":"2024-07-22T22:40","z":71.9,"c":71.4,"a":70.2},{"t":"2024-07-22T22:45","z":71.4,"c":70.9,"a":69.6},
{"t":"2024-07-22T22:50","z":71.3,"c":70.8,"a":69.5},{"t":"2024-07-22T22:55","z":71.5,"c":71.0,"a":69.7},{"t":"2024-07-22T23:00","z":71.5,"c":71.0,"a":69.8},
{"t":"2024-07-22T23:05","z":72.4,"c":71.9,"a":70.8},{"t":"2024-07-22T23:10","z":72.8,"c":72.3,"a":71.1},{"t":"2024-07-22T23:15","z":72.3,"c":71.8,"a":70.6},
{"t":"2024-07-22T23:20","z":71.6,"c":71.1,"a":69.9},{"t":"2024-07-22T23:25","z":71.8,"c":71.3,"a":70.1},{"t":"2024-07-22T23:30","z":72.1,"c":71.6,"a":70.4},
{"t":"2024-07-22T23:35","z":71.7,"c":71.2,"a":70.0},{"t":"2024-07-22T23:40","z":71.3,"c":70.8,"a":69.5},{"t":"2024-07-22T23:45","z":71.0,"c":70.5,"a":69.2},
{"t":"2024-07-22T23:50","z":70.9,"c":70.4,"a":69.1},{"t":"2024-07-22T23:55","z":70.9,"c":70.4,"a":69.1}
      ]},
      "transform": [{"fold": ["z", "c", "a"], "as": ["series", "db"]}],
      "mark": {"type": "line", "strokeWidth": 2},
      "encoding": {
        "x": {"field": "t", "type": "temporal"},
        "y": {"field": "db", "type": "quantitative", "scale": {"domain": [24, 108], "nice": false, "zero": false},
          "axis": {"orient": "right", "values": [24,27,30,33,36,39,42,45,48,51,54,57,60,63,66,69,72,75,78,81,84,87,90,93,96,99,102,105,108],
            "labelExpr": "datum.value % 12 === 0 ? datum.label : ''",
            "tickSize": {"condition": {"test": "datum.value % 12 === 0", "value": 7}, "value": 3.5},
            "grid": false, "labelPadding": 5, "title": "dB SPL", "titlePadding": 10, "titleAngle": 270}},
        "color": {"field": "series", "type": "nominal",
          "scale": {"domain": ["z", "c", "a"], "range": ["#dc143c", "#ff8c00", "#ffd700"]},
          "legend": {"title": null, "orient": "bottom-right", "offset": 5, "rowPadding": 1,
            "fillColor": "#fffbea", "strokeColor": "#d6cbb0", "cornerRadius": 2, "padding": 6,
            "labelFont": "DejaVu Sans", "labelFontSize": 9.5, "labelColor": "black", "labelOffset": 12,
            "symbolType": "M-2,0L2,0", "symbolSize": 100, "symbolStrokeWidth": 3,
            "labelExpr": "datum.label == 'z' ? 'dB(Z)' : datum.label == 'c' ? 'dB(C)' : 'dB(A)'"}
        }
      }
    }
  ],
  "resolve": {"scale": {"y": "independent"}}
}
]
}
